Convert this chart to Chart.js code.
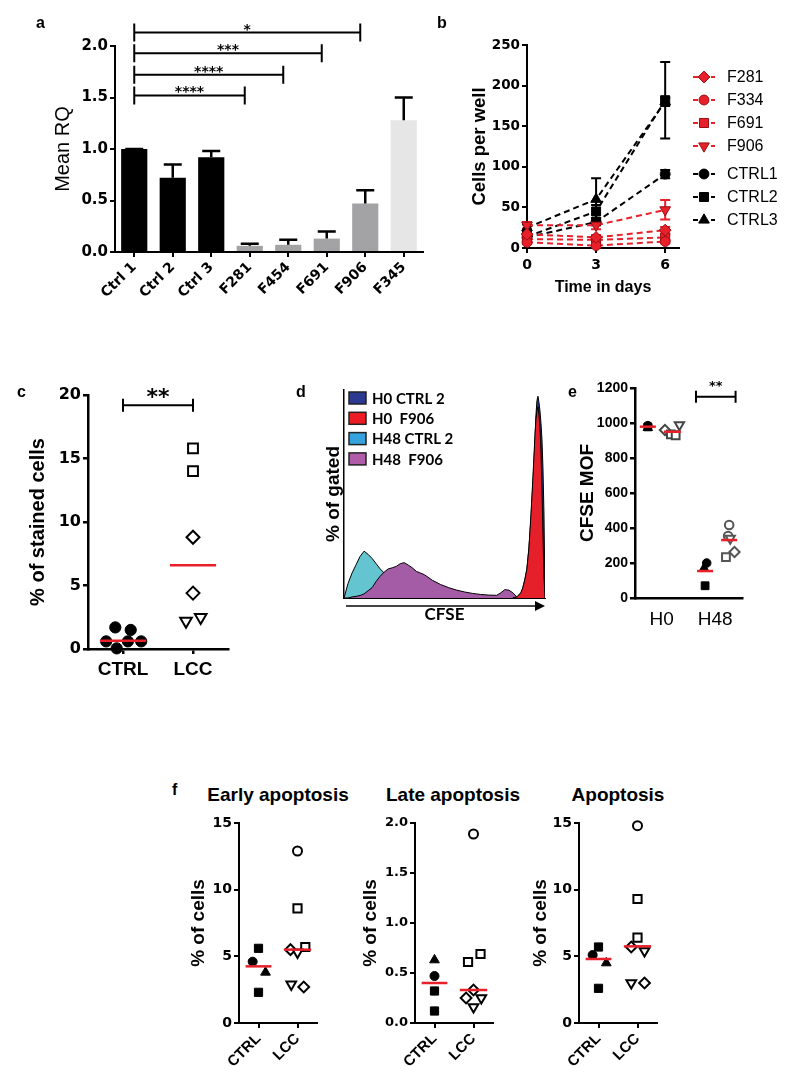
<!DOCTYPE html>
<html>
<head>
<meta charset="utf-8">
<title>Figure</title>
<script src="https://cdn.jsdelivr.net/npm/chart.js@4.4.1/dist/chart.umd.min.js"></script>
<style>
  body { margin: 0; background: #fff; }
  #page { position: relative; width: 800px; height: 1082px; overflow: hidden; font-family: "Liberation Sans", Arial, sans-serif; color: #000; }
  #page canvas { position: absolute; }
  .tag { position: absolute; font-size: 16px; font-weight: bold; line-height: 1; }
  .ftitle { position: absolute; font-size: 19px; font-weight: bold; line-height: 1; white-space: nowrap; transform: translateX(-50%); }
</style>
</head>
<body>
<div id="page">
  <canvas id="chartA" width="430" height="300" style="left:0;top:0"></canvas>
  <canvas id="chartB" width="400" height="300" style="left:400px;top:0"></canvas>
  <canvas id="chartC" width="300" height="310" style="left:0;top:370px"></canvas>
  <canvas id="chartD" width="240" height="245" style="left:310px;top:385px"></canvas>
  <canvas id="chartE" width="190" height="270" style="left:570px;top:370px"></canvas>
  <canvas id="chartF1" width="150" height="272" style="left:180px;top:810px"></canvas>
  <canvas id="chartF2" width="160" height="272" style="left:350px;top:810px"></canvas>
  <canvas id="chartF3" width="150" height="272" style="left:520px;top:810px"></canvas>

  <div class="tag" style="left:36px;top:15px">a</div>
  <div class="tag" style="left:437px;top:15px">b</div>
  <div class="tag" style="left:17px;top:384px">c</div>
  <div class="tag" style="left:296px;top:384px">d</div>
  <div class="tag" style="left:568px;top:384px">e</div>
  <div class="tag" style="left:172px;top:782px">f</div>
  <div class="ftitle" style="left:278px;top:785px">Early apoptosis</div>
  <div class="ftitle" style="left:453px;top:785px">Late apoptosis</div>
  <div class="ftitle" style="left:618px;top:785px">Apoptosis</div>
</div>

<script>
// ---- a: relative expression
const rqLabels = ["Ctrl 1", "Ctrl 2", "Ctrl 3", "F281", "F454", "F691", "F906", "F345"];
const rqMeans = [1.0, 0.72, 0.92, 0.06, 0.07, 0.13, 0.47, 1.28];
const rqUpper = [1.0, 0.85, 0.98, 0.08, 0.12, 0.20, 0.60, 1.50];
const rqSigTargets = ["F281", "F454", "F691", "F906"];
const rqSigLevels = [1.52, 1.72, 1.93, 2.13];
const rqSigStars = ["****", "****", "***", "*"];

// ---- b: growth curves
const days = [0, 3, 6];
const cellsF281 = [17, 13, 22];
const cellsF334 = [7, 3, 8];
const cellsF691 = [11, 10, 13];
const cellsF906 = [28, 28, 47];
const cellsCtrl1 = [13, 32, 91];
const cellsCtrl2 = [14, 45, 182];
const cellsCtrl3 = [25, 60, 180];
const errF281 = [3, 3, 4];
const errF334 = [2, 2, 2];
const errF691 = [2, 2, 3];
const errF906 = [4, 5, 12];
const errCtrl1 = [2, 4, 5];
const errCtrl2 = [3, 8, 47];
const errCtrl3 = [4, 26, 5];

// ---- c: stained cells
const stainedGroups = ["CTRL", "LCC"];
const stainedCtrl = [1.7, 1.5, 0.6, 0.6, 0.6, 0.05];
const stainedLcc = [15.8, 14.0, 8.8, 4.4, 2.2, 2.5];
const stainedMeans = [0.65, 6.6];

// ---- d: CFSE histograms
const cfseNames = ["H0 CTRL 2", "H0  F906", "H48 CTRL 2", "H48  F906"];
const cfseH48Bins = [0, 2, 4, 6, 8, 10, 12, 14, 16, 18, 20, 22, 24, 26, 28, 30, 32, 34, 36, 38, 40, 44, 48, 52, 56, 60, 64, 68, 72, 76, 78, 80, 82, 84, 86, 88];
const cfseH48Ctrl = [0, 7, 12, 16, 20, 22.5, 21, 19, 16.5, 14, 12, 10.5, 9, 7.5, 6.5, 5.5, 4.5, 4, 3.5, 3, 2.8, 2.2, 1.8, 1.5, 1.2, 1, 0.8, 0.6, 0.5, 0.4, 0.4, 0.3, 0.2, 0.1, 0, 0];
const cfseH48F906 = [0, 0, 0.5, 0.8, 1.2, 2, 3.5, 5, 8, 10.5, 12.5, 14, 14.5, 15.2, 16.5, 17, 15.8, 14.5, 12.8, 12, 11.2, 8.5, 6.5, 5, 3.8, 2.9, 2.2, 1.7, 1.4, 1.3, 2.5, 4, 3.8, 2.5, 0.5, 0];
const cfseH0Bins = [84, 86, 88, 89, 90, 91, 92, 93, 94, 95, 95.5, 96, 96.5, 97, 97.5, 98, 98.5, 99, 99.5, 100];
const cfseH0Ctrl = [0, 0.5, 2.5, 5, 9, 14, 24, 38, 56, 76, 88, 95, 97, 94, 90, 84, 76, 62, 40, 0];
const cfseH0F906 = [0, 0.5, 2.5, 5, 9, 14, 24, 40, 58, 78, 86, 90, 92, 88, 82, 70, 52, 30, 10, 0];

// ---- e: CFSE MOF
const mofGroups = ["H0", "H48"];
const mofH0Ctrl = [985, 978, 972];
const mofH0Lcc = [989, 960, 935, 930];
const mofH48Ctrl = [200, 171, 70];
const mofH48Lcc = [417, 354, 340, 263, 234];
const mofMeans = [979, 950, 154, 331];
const mofSigLevel = 1150;

// ---- f: apoptosis
const apoGroups = ["CTRL", "LCC"];
const earlyCtrl = [4.6, 5.6, 3.8, 2.3];
const earlyLcc = [12.9, 8.6, 5.7, 5.5, 5.3, 2.9, 2.7];
const earlyMedians = [4.25, 5.5];
const lateCtrl = [0.63, 0.47, 0.32, 0.12];
const lateLcc = [1.89, 0.69, 0.61, 0.33, 0.25, 0.25, 0.16];
const lateMedians = [0.4, 0.33];
const totalCtrl = [5.1, 5.7, 4.5, 2.6];
const totalLcc = [14.8, 9.3, 6.4, 5.7, 5.4, 3.0, 3.0];
const totalMedians = [4.8, 5.75];

// ---------------------------------------------------------------
const ARIAL = '"Liberation Sans", Arial, sans-serif';
const DEJAVU = '"DejaVu Sans", sans-serif';
const LATO = 'Lato, "Open Sans", sans-serif';
const RED = "#e8202a";
const RQ_COLORS = ["#000", "#000", "#000", "#a3a3a5", "#a3a3a5", "#a3a3a5", "#a3a3a5", "#e6e6e6"];

const MARKERS = {
  circle: { style: "circle", rot: 0, r: 4.5 },
  square: { style: "rect", rot: 0, r: 5.8 },
  triangle: { style: "triangle", rot: 0, r: 5.6 },
  triangleDown: { style: "triangle", rot: 180, r: 5.6 },
  diamond: { style: "rectRot", rot: 0, r: 5.4 }
};

Chart.defaults.color = "#000";
Chart.defaults.font.family = ARIAL;
Chart.defaults.animation = false;
Chart.defaults.responsive = false;
Chart.defaults.plugins.legend.display = false;
Chart.defaults.plugins.tooltip.enabled = false;

function frame(width, ticks = true) {
  return {
    border: { display: true, color: "#000", width: width },
    grid: { display: ticks, drawOnChartArea: false, drawTicks: true, tickLength: 5, color: "#000", lineWidth: width, offset: false }
  };
}

function bold(family, size) {
  return { family: family, size: size, weight: "bold" };
}

function marker(ctx, name, x, y, scale) {
  const m = MARKERS[name];
  Chart.helpers.drawPoint(ctx, { pointStyle: m.style, rotation: m.rot, radius: m.r * scale, borderWidth: ctx.lineWidth }, x, y);
}

// ---------------- a
const rqExtras = {
  id: "rqExtras",
  afterDatasetsDraw(chart) {
    const { ctx, scales: { x, y } } = chart;
    ctx.save();
    ctx.strokeStyle = "#000";
    ctx.lineWidth = 2.5;
    rqMeans.forEach((m, i) => {
      const px = x.getPixelForValue(i);
      const top = y.getPixelForValue(rqUpper[i]);
      ctx.beginPath();
      ctx.moveTo(px, y.getPixelForValue(m));
      ctx.lineTo(px, top);
      ctx.moveTo(px - 9, top);
      ctx.lineTo(px + 9, top);
      ctx.stroke();
    });

    const x0 = x.getPixelForValue(0);
    ctx.lineWidth = 2;
    ctx.fillStyle = "#000";
    ctx.font = "bold 14px " + DEJAVU;
    ctx.textAlign = "center";
    ctx.textBaseline = "alphabetic";
    rqSigTargets.forEach((t, i) => {
      const x1 = x.getPixelForValue(rqLabels.indexOf(t)) - 5;
      const py = y.getPixelForValue(rqSigLevels[i]);
      ctx.beginPath();
      ctx.moveTo(x0, py - 9); ctx.lineTo(x0, py + 9);
      ctx.moveTo(x0, py); ctx.lineTo(x1, py);
      ctx.moveTo(x1, py - 9); ctx.lineTo(x1, py + 9);
      ctx.stroke();
      ctx.fillText(rqSigStars[i], (x0 + x1) / 2, py + 1);
    });
    ctx.restore();
  }
};

new Chart(document.getElementById("chartA"), {
  type: "bar",
  data: {
    labels: rqLabels,
    datasets: [{ data: rqMeans, backgroundColor: RQ_COLORS, barPercentage: 0.68, categoryPercentage: 1 }]
  },
  options: {
    layout: { padding: { left: 51, top: 46, right: 7, bottom: 0 } },
    scales: {
      x: {
        ...frame(2),
        ticks: { font: bold(DEJAVU, 14), minRotation: 45, maxRotation: 45, padding: 2, autoSkip: false },
        afterFit: s => { s.height = 48; }
      },
      y: {
        min: 0, max: 2,
        ...frame(2),
        ticks: { stepSize: 0.5, font: bold(DEJAVU, 15), padding: 2, callback: v => v.toFixed(1) },
        title: { display: true, text: "Mean RQ", font: { family: ARIAL, size: 20 }, padding: 0 },
        afterFit: s => { s.width = 64; }
      }
    }
  },
  plugins: [rqExtras]
});

// ---------------- b
const growthSeries = [
  { name: "F281", values: cellsF281, err: errF281, marker: "diamond", color: RED },
  { name: "F334", values: cellsF334, err: errF334, marker: "circle", color: RED },
  { name: "F691", values: cellsF691, err: errF691, marker: "square", color: RED },
  { name: "F906", values: cellsF906, err: errF906, marker: "triangleDown", color: RED },
  { name: "CTRL1", values: cellsCtrl1, err: errCtrl1, marker: "circle", color: "#000" },
  { name: "CTRL2", values: cellsCtrl2, err: errCtrl2, marker: "square", color: "#000" },
  { name: "CTRL3", values: cellsCtrl3, err: errCtrl3, marker: "triangle", color: "#000" }
];

const growthErrors = {
  id: "growthErrors",
  beforeDatasetsDraw(chart) {
    const { ctx, scales: { x, y } } = chart;
    ctx.save();
    ctx.lineWidth = 2;
    growthSeries.forEach(s => {
      ctx.strokeStyle = s.color;
      days.forEach((d, i) => {
        const px = x.getPixelForValue(d);
        const lo = y.getPixelForValue(Math.max(0, s.values[i] - s.err[i]));
        const hi = y.getPixelForValue(s.values[i] + s.err[i]);
        ctx.beginPath();
        ctx.moveTo(px, lo); ctx.lineTo(px, hi);
        ctx.moveTo(px - 5, lo); ctx.lineTo(px + 5, lo);
        ctx.moveTo(px - 5, hi); ctx.lineTo(px + 5, hi);
        ctx.stroke();
      });
    });
    ctx.restore();
  }
};

const growthLegend = {
  id: "growthLegend",
  afterDraw(chart) {
    const { ctx, chartArea } = chart;
    ctx.save();
    ctx.font = "16px " + ARIAL;
    ctx.textBaseline = "middle";
    ctx.textAlign = "left";
    growthSeries.forEach((s, i) => {
      const y = chartArea.top + 32 + i * 23 + (i >= 4 ? 5 : 0);
      const x = chartArea.right + 14;
      ctx.strokeStyle = s.color;
      ctx.lineWidth = 2;
      ctx.setLineDash([5, 4]);
      ctx.beginPath(); ctx.moveTo(x, y); ctx.lineTo(x + 22, y); ctx.stroke();
      ctx.setLineDash([]);
      ctx.fillStyle = s.color;
      ctx.strokeStyle = s.color === RED ? "#9a0f14" : "#000";
      ctx.lineWidth = 1;
      marker(ctx, s.marker, x + 11, y, 1.1);
      ctx.fillStyle = "#000";
      ctx.fillText(s.name, x + 34, y + 1);
    });
    ctx.restore();
  }
};

new Chart(document.getElementById("chartB"), {
  type: "line",
  data: {
    datasets: growthSeries.map(s => ({
      data: days.map((d, i) => ({ x: d, y: s.values[i] })),
      borderColor: s.color,
      borderWidth: 2,
      borderDash: [6, 4],
      tension: 0,
      clip: false,
      pointStyle: MARKERS[s.marker].style,
      pointRotation: MARKERS[s.marker].rot,
      pointRadius: MARKERS[s.marker].r * 1.1,
      pointBackgroundColor: s.color,
      pointBorderColor: s.color === RED ? "#9a0f14" : "#000",
      pointBorderWidth: 1
    }))
  },
  options: {
    layout: { padding: { left: 69, top: 45, right: 121, bottom: 3 } },
    scales: {
      x: {
        type: "linear", min: 0, max: 6.6,
        ...frame(2),
        afterBuildTicks: s => { s.ticks = days.map(v => ({ value: v })); },
        ticks: { font: bold(DEJAVU, 14), padding: 4 },
        title: { display: true, text: "Time in days", font: bold(ARIAL, 16), padding: 0 },
        afterFit: s => { s.height = 49; }
      },
      y: {
        min: 0, max: 250,
        ...frame(2),
        ticks: { stepSize: 50, font: bold(DEJAVU, 13.5), padding: 2 },
        title: { display: true, text: "Cells per well", font: bold(ARIAL, 18.5), padding: 0 },
        afterFit: s => { s.width = 58; }
      }
    }
  },
  plugins: [growthErrors, growthLegend]
});

// ---------------- dot plots (c, e, f)
function dots(values, shapes, offsets, filled, size, edge) {
  return {
    data: values.map((v, i) => ({ x: offsets[i], y: v })),
    pointStyle: shapes.map(s => MARKERS[s].style),
    pointRotation: shapes.map(s => MARKERS[s].rot),
    pointRadius: shapes.map(s => MARKERS[s].r * size),
    pointBackgroundColor: filled ? "#000" : "#fff",
    pointBorderColor: edge || "#000",
    pointBorderWidth: filled ? 1 : 2,
    clip: false,
    order: 2
  };
}

function meanBar(value, center, half) {
  return {
    data: [{ x: center - half, y: value }, { x: center + half, y: value }],
    showLine: true, borderColor: RED, borderWidth: 2.5, pointRadius: 0, clip: false, order: 1
  };
}

function bracket(from, to, level, stars, font, tick, lift) {
  return {
    id: "bracket",
    afterDraw(chart) {
      const { ctx, scales: { x, y } } = chart;
      const x0 = x.getPixelForValue(from), x1 = x.getPixelForValue(to), py = y.getPixelForValue(level);
      ctx.save();
      ctx.strokeStyle = "#000";
      ctx.lineWidth = 2;
      ctx.beginPath();
      ctx.moveTo(x0, py - tick); ctx.lineTo(x0, py + tick);
      ctx.moveTo(x0, py); ctx.lineTo(x1, py);
      ctx.moveTo(x1, py - tick); ctx.lineTo(x1, py + tick);
      ctx.stroke();
      ctx.fillStyle = "#000";
      ctx.font = font;
      ctx.textAlign = "center";
      ctx.textBaseline = "alphabetic";
      ctx.fillText(stars, (x0 + x1) / 2, py - lift);
      ctx.restore();
    }
  };
}

function dotChart(id, cfg) {
  return new Chart(document.getElementById(id), {
    type: "scatter",
    data: { datasets: cfg.datasets },
    options: {
      layout: { padding: cfg.padding },
      scales: {
        x: {
          type: "linear", min: -0.5, max: 1.5,
          ...frame(cfg.axisWidth, cfg.xMarks),
          afterBuildTicks: s => { s.ticks = cfg.groups.map((g, i) => ({ value: i })); },
          ticks: { callback: v => cfg.groups[v], font: cfg.xFont, minRotation: cfg.xRot, maxRotation: cfg.xRot, padding: cfg.xPad, autoSkip: false },
          afterFit: s => { s.height = cfg.xHeight; }
        },
        y: {
          min: 0, max: cfg.yTicks[cfg.yTicks.length - 1],
          ...frame(cfg.axisWidth),
          afterBuildTicks: s => { s.ticks = cfg.yTicks.map(v => ({ value: v })); },
          ticks: { font: cfg.yFont, padding: 2, callback: v => v.toFixed(cfg.decimals || 0) },
          title: { display: true, text: cfg.yTitle, font: cfg.titleFont, padding: 0 },
          afterFit: s => { s.width = cfg.yWidth; }
        }
      }
    },
    plugins: cfg.plugins || []
  });
}

// c
dotChart("chartC", {
  groups: stainedGroups,
  datasets: [
    meanBar(stainedMeans[0], 0, 0.33),
    meanBar(stainedMeans[1], 1, 0.33),
    dots(stainedCtrl, ["circle", "circle", "circle", "circle", "circle", "circle"], [-0.11, 0.11, -0.24, 0.07, 0.26, -0.09], true, 1.25),
    dots(stainedLcc, ["square", "square", "diamond", "diamond", "triangleDown", "triangleDown"], [1, 1, 1, 1, 0.9, 1.11], false, 1.2)
  ],
  padding: { left: 26, top: 25, right: 72, bottom: 0 },
  axisWidth: 2.5, xMarks: true,
  yTicks: [0, 5, 10, 15, 20], yWidth: 62, xHeight: 31,
  xFont: bold(ARIAL, 19), xRot: 0, xPad: 4,
  yFont: bold(DEJAVU, 16), yTitle: "% of stained cells", titleFont: bold(ARIAL, 20),
  plugins: [bracket(0, 1, 19.2, "**", "bold 22px " + DEJAVU, 6.5, 1)]
});

// e
dotChart("chartE", {
  groups: mofGroups,
  datasets: [
    meanBar(mofMeans[0], -0.26, 0.15),
    meanBar(mofMeans[1], 0.2, 0.16),
    meanBar(mofMeans[2], 0.81, 0.15),
    meanBar(mofMeans[3], 1.26, 0.15),
    dots(mofH0Ctrl, ["circle", "square", "triangle"], [-0.26, -0.26, -0.26], true, 0.95),
    dots(mofH0Lcc, ["triangleDown", "diamond", "square", "square"], [0.33, 0.06, 0.17, 0.26], false, 0.95, "#444"),
    dots(mofH48Ctrl, ["circle", "triangle", "square"], [0.84, 0.79, 0.81], true, 0.95),
    dots(mofH48Lcc, ["circle", "circle", "triangleDown", "diamond", "square"], [1.26, 1.24, 1.28, 1.36, 1.2], false, 0.95, "#555")
  ],
  padding: { left: 6, top: 18, right: 18, bottom: 0 },
  axisWidth: 2.5, xMarks: false,
  yTicks: [0, 200, 400, 600, 800, 1000, 1200], yWidth: 59, xHeight: 42,
  xFont: { family: ARIAL, size: 19 }, xRot: 0, xPad: 5,
  yFont: bold(ARIAL, 14), yTitle: "CFSE MOF", titleFont: bold(ARIAL, 19),
  plugins: [bracket(0.64, 1.38, mofSigLevel, "**", "bold 13px " + DEJAVU, 6, 7)]
});

// f
const fCommon = {
  groups: apoGroups,
  axisWidth: 2, xMarks: true, xHeight: 59,
  xFont: bold(ARIAL, 15), xRot: 45, xPad: 2,
  yFont: bold(DEJAVU, 14), yTitle: "% of cells", titleFont: bold(ARIAL, 19)
};
const fCtrlShapes = ["circle", "square", "triangle", "square"];
const fLccShapes = ["circle", "square", "square", "diamond", "triangleDown", "triangleDown", "diamond"];

dotChart("chartF1", Object.assign({}, fCommon, {
  datasets: [
    meanBar(earlyMedians[0], 0, 0.33),
    meanBar(earlyMedians[1], 1, 0.35),
    dots(earlyCtrl, fCtrlShapes, [-0.15, 0, 0.18, 0], true, 1),
    dots(earlyLcc, fLccShapes, [1, 1, 1.2, 0.82, 1, 0.84, 1.16], false, 1)
  ],
  padding: { left: 7, top: 13, right: 13, bottom: 0 },
  yTicks: [0, 5, 10, 15], yWidth: 52
}));

dotChart("chartF2", Object.assign({}, fCommon, {
  datasets: [
    meanBar(lateMedians[0], 0, 0.33),
    meanBar(lateMedians[1], 1, 0.35),
    dots(lateCtrl, ["triangle", "circle", "square", "square"], [0, 0, 0, 0], true, 1),
    dots(lateLcc, ["circle", "square", "square", "diamond", "diamond", "triangleDown", "triangleDown"], [1, 1.18, 0.86, 1, 0.81, 1.2, 1], false, 1)
  ],
  padding: { left: 9, top: 13, right: 17, bottom: 0 },
  yTicks: [0, 0.5, 1, 1.5, 2], yWidth: 56, decimals: 1,
  yFont: bold(DEJAVU, 13)
}));

dotChart("chartF3", Object.assign({}, fCommon, {
  datasets: [
    meanBar(totalMedians[0], 0, 0.33),
    meanBar(totalMedians[1], 1, 0.35),
    dots(totalCtrl, fCtrlShapes, [-0.15, 0, 0.2, 0], true, 1),
    dots(totalLcc, fLccShapes, [1, 1, 1, 0.84, 1.18, 0.84, 1.18], false, 1)
  ],
  padding: { left: 9, top: 13, right: 13, bottom: 0 },
  yTicks: [0, 5, 10, 15], yWidth: 50
}));

// ---------------- d
const CFSE_FILLS = ["#2e3c90", "#e5202a", "#64c4cf", "#a55ca6"];
const CFSE_KEYS = ["#2b3990", "#ed1c24", "#36a3dc", "#b05ca8"];

const cfseLegend = {
  id: "cfseLegend",
  afterDraw(chart) {
    const { ctx, chartArea: a } = chart;
    ctx.save();
    ctx.font = "bold 15px " + LATO;
    ctx.textBaseline = "middle";
    cfseNames.forEach((name, i) => {
      const y = a.top + 8 + i * 20.3;
      ctx.fillStyle = CFSE_KEYS[i];
      ctx.fillRect(a.left + 5, y - 6, 17, 12);
      ctx.strokeStyle = "#222";
      ctx.lineWidth = 1.5;
      ctx.strokeRect(a.left + 5, y - 6, 17, 12);
      ctx.fillStyle = "#000";
      ctx.fillText(name, a.left + 28, y + 1);
    });
    const y = a.bottom + 8;
    ctx.strokeStyle = "#444";
    ctx.lineWidth = 2;
    ctx.beginPath(); ctx.moveTo(a.left + 2, y); ctx.lineTo(a.right - 6, y); ctx.stroke();
    ctx.fillStyle = "#000";
    ctx.beginPath(); ctx.moveTo(a.right, y); ctx.lineTo(a.right - 10, y - 5); ctx.lineTo(a.right - 10, y + 5); ctx.closePath(); ctx.fill();
    ctx.restore();
  }
};

function histo(bins, values, color) {
  return {
    data: bins.map((b, i) => ({ x: b, y: values[i] })),
    fill: "origin", backgroundColor: color, borderColor: "#000", borderWidth: 1,
    pointRadius: 0, tension: 0
  };
}

new Chart(document.getElementById("chartD"), {
  type: "line",
  data: {
    datasets: [
      histo(cfseH0Bins, cfseH0F906, CFSE_FILLS[1]),
      histo(cfseH0Bins, cfseH0Ctrl, CFSE_FILLS[0]),
      histo(cfseH48Bins, cfseH48F906, CFSE_FILLS[3]),
      histo(cfseH48Bins, cfseH48Ctrl, CFSE_FILLS[2])
    ]
  },
  options: {
    layout: { padding: { left: 12, top: 5, right: 5, bottom: 5 } },
    scales: {
      x: {
        type: "linear", min: 0, max: 100,
        border: { display: true, color: "#000", width: 1 },
        grid: { display: false },
        ticks: { display: false },
        title: { display: true, text: "CFSE", font: bold(LATO, 17), padding: 0 },
        afterFit: s => { s.height = 27; }
      },
      y: {
        min: 0, max: 100,
        border: { display: true, color: "#000", width: 1.5 },
        grid: { display: false },
        ticks: { display: false },
        title: { display: true, text: "% of gated", font: bold(ARIAL, 19), padding: 0 },
        afterFit: s => { s.width = 22; }
      }
    }
  },
  plugins: [cfseLegend]
});
</script>
</body>
</html>
